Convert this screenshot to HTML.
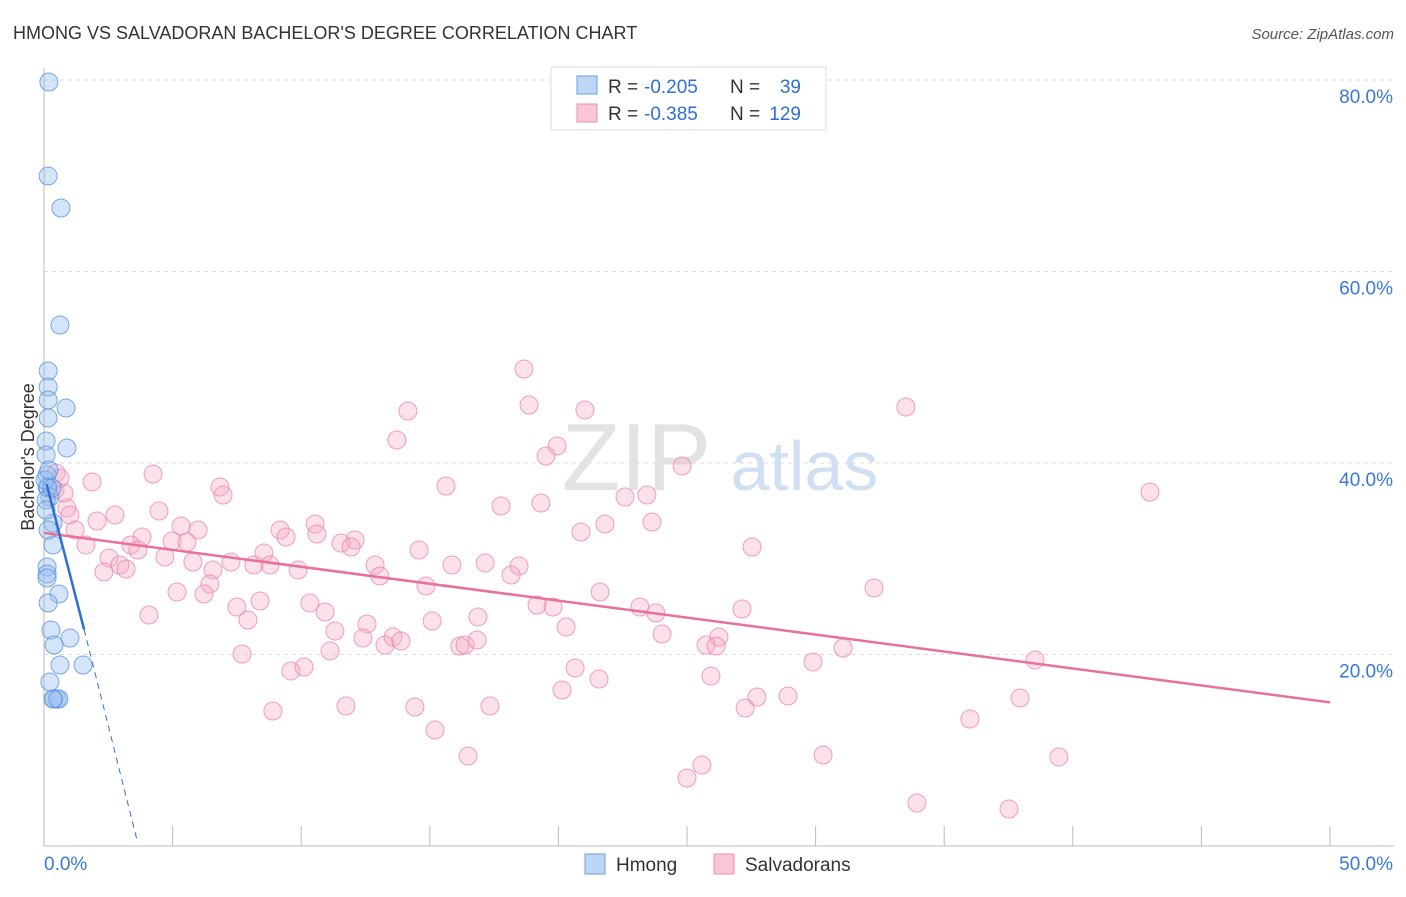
<!DOCTYPE html>
<html><head><meta charset="utf-8"><style>
body{margin:0;background:#fff;font-family:"Liberation Sans",sans-serif;}
svg text{font-family:"Liberation Sans",sans-serif;}
</style></head><body>
<svg id="chart" width="1406" height="892" viewBox="0 0 1406 892" xmlns="http://www.w3.org/2000/svg">
<text x="13" y="39" font-size="18" fill="#333">HMONG VS SALVADORAN BACHELOR'S DEGREE CORRELATION CHART</text>
<text x="1394" y="39" font-size="15" fill="#555" text-anchor="end" font-style="italic">Source: ZipAtlas.com</text>
<text x="720" y="490" font-size="96" text-anchor="middle" fill="#ddd" font-family="Liberation Serif" opacity="0.8">ZIP<tspan fill="#c5d9ef" font-family="Liberation Sans" font-size="70"> atlas</tspan></text>
<text transform="translate(34,457) rotate(-90)" font-size="18" fill="#333" text-anchor="middle">Bachelor's Degree</text>
<g id="grid"></g><g id="axes"></g><g id="pts"></g><g id="lines"></g>
<g>
<rect x="551" y="67" width="275" height="63" fill="#fff" stroke="#ddd"/>
<rect x="577" y="76" width="20" height="18" fill="#bcd6f5" stroke="#6b9de0"/>
<rect x="577" y="104" width="20" height="18" fill="#f9c6d5" stroke="#ec8fab"/>
<text x="608" y="93" font-size="19" fill="#333">R =</text>
<text x="644" y="93" font-size="19" fill="#2f6fd0">-0.205</text>
<text x="730" y="93" font-size="19" fill="#333">N =</text>
<text x="801" y="93" font-size="19" fill="#2f6fd0" text-anchor="end">39</text>
<text x="608" y="120" font-size="19" fill="#333">R =</text>
<text x="644" y="120" font-size="19" fill="#2f6fd0">-0.385</text>
<text x="730" y="120" font-size="19" fill="#333">N =</text>
<text x="801" y="120" font-size="19" fill="#2f6fd0" text-anchor="end">129</text>
</g>
<g>
<rect x="585" y="854" width="20" height="20" fill="#bcd6f5" stroke="#6b9de0"/>
<text x="616" y="871" font-size="19" fill="#333">Hmong</text>
<rect x="714" y="854" width="20" height="20" fill="#f9c6d5" stroke="#ec8fab"/>
<text x="745" y="871" font-size="19" fill="#333">Salvadorans</text>
</g>
</svg>
<script>
const yTicks=[20,40,60,80];
const xTickLabels=["0.0%","50.0%"];
const hmongPx=[[49,82],[48,176],[61,208],[60,325],[48,371],[48,387],[48,400],[48,418],[66,408],[67,448],[46,441],[46,455],[47,475],[47,487],[48,488],[50,497],[53,523],[53,545],[47,567],[47,574],[47,578],[59,594],[48,603],[51,630],[54,645],[70,638],[60,665],[83,665],[50,682],[54,699],[57,699],[59,699],[53,699],[48,530],[46,500],[45,480],[49,470],[52,488],[46,510]];
const salvPx=[[524,369],[529,405],[408,411],[585,410],[906,407],[397,440],[557,446],[546,456],[682,466],[153,474],[1150,492],[446,486],[220,487],[92,482],[223,495],[501,506],[541,503],[625,497],[647,495],[652,522],[605,524],[581,532],[159,511],[115,515],[97,521],[67,508],[70,515],[55,490],[64,493],[75,530],[86,545],[142,537],[131,545],[138,550],[181,526],[198,530],[172,541],[187,542],[280,530],[286,537],[315,524],[317,534],[355,540],[341,543],[351,547],[419,550],[752,547],[165,557],[193,562],[109,558],[120,565],[104,572],[126,569],[231,562],[264,553],[270,565],[254,565],[298,570],[375,565],[380,576],[452,565],[485,563],[519,566],[511,575],[426,586],[213,570],[210,584],[204,594],[237,607],[260,601],[177,592],[149,615],[310,603],[325,612],[600,592],[537,605],[553,607],[640,607],[656,613],[742,609],[874,588],[248,620],[335,631],[367,624],[393,637],[432,621],[478,617],[566,627],[662,634],[719,637],[242,654],[330,651],[363,638],[385,645],[401,641],[460,646],[465,645],[477,640],[706,645],[716,646],[843,648],[813,662],[1035,660],[291,671],[304,667],[575,668],[711,676],[599,679],[562,690],[757,697],[788,696],[745,708],[1020,698],[273,711],[346,706],[415,707],[490,706],[970,719],[435,730],[468,756],[823,755],[1059,757],[702,765],[687,778],[917,803],[1009,809],[56,473],[60,478]];
const X0=44,XS=25.72,Y0=846,YS=9.575;
const sx=v=>X0+v*XS, sy=v=>Y0-v*YS;
const hmongX=hmongPx.map(p=>+((p[0]-X0)/XS).toFixed(2)), hmongY=hmongPx.map(p=>+((Y0-p[1])/YS).toFixed(2));
const salvX=salvPx.map(p=>+((p[0]-X0)/XS).toFixed(2)), salvY=salvPx.map(p=>+((Y0-p[1])/YS).toFixed(2));
const NS="http://www.w3.org/2000/svg";
function mk(t,a,parent){const e=document.createElementNS(NS,t);for(const k in a)e.setAttribute(k,a[k]);document.getElementById(parent).appendChild(e);return e;}
yTicks.forEach(t=>{
 const l=mk('line',{x1:44,x2:1394,y1:sy(t),y2:sy(t),stroke:'#ddd','stroke-dasharray':'4,4'},'grid');
 
 
 const tx=mk('text',{x:1393,y:sy(t)+23,'font-size':19,fill:'#3a78d8','text-anchor':'end'},'grid');
 tx.textContent=t.toFixed(1)+'%';
 
 
});
const ax=mk('line',{x1:44,x2:44,y1:68,y2:846,stroke:'#bbb'},'axes');


const bx=mk('line',{x1:44,x2:1394,y1:846,y2:846,stroke:'#bbb'},'axes');


for(let i=0;i<=10;i++){const t=mk('line',{x1:sx(i*5),x2:sx(i*5),y1:826,y2:846,stroke:'#bbb'},'axes');
 
 }
xTickLabels.forEach((s,i)=>{const t=mk('text',{x:i?1393:44,y:870,'font-size':19,fill:'#3a78d8','text-anchor':i?'end':'start'},'axes');t.textContent=s;
 
 });
salvX.forEach((x,i)=>{const c=mk('circle',{cx:sx(x),cy:sy(salvY[i]),r:9,fill:'rgba(246,170,195,0.35)',stroke:'rgba(234,130,165,0.75)'},'pts');
 
 });
hmongX.forEach((x,i)=>{const c=mk('circle',{cx:sx(x),cy:sy(hmongY[i]),r:9,fill:'rgba(150,190,240,0.4)',stroke:'rgba(80,140,220,0.75)'},'pts');
 
 });
const pl=mk('line',{x1:sx(0),y1:sy(32.7),x2:sx(50),y2:sy(15.0),stroke:'#e8709a','stroke-width':2.5},'lines');


const bl=mk('line',{x1:sx(0.1),y1:sy(37.8),x2:sx(1.56),y2:sy(22.6),stroke:'#2f6fd0','stroke-width':2.5},'lines');


const bd=mk('line',{x1:sx(1.56),y1:sy(22.6),x2:sx(3.6),y2:sy(0.8),stroke:'#2f6fd0','stroke-width':1,'stroke-dasharray':'6,5'},'lines');


</script>
</body></html>
